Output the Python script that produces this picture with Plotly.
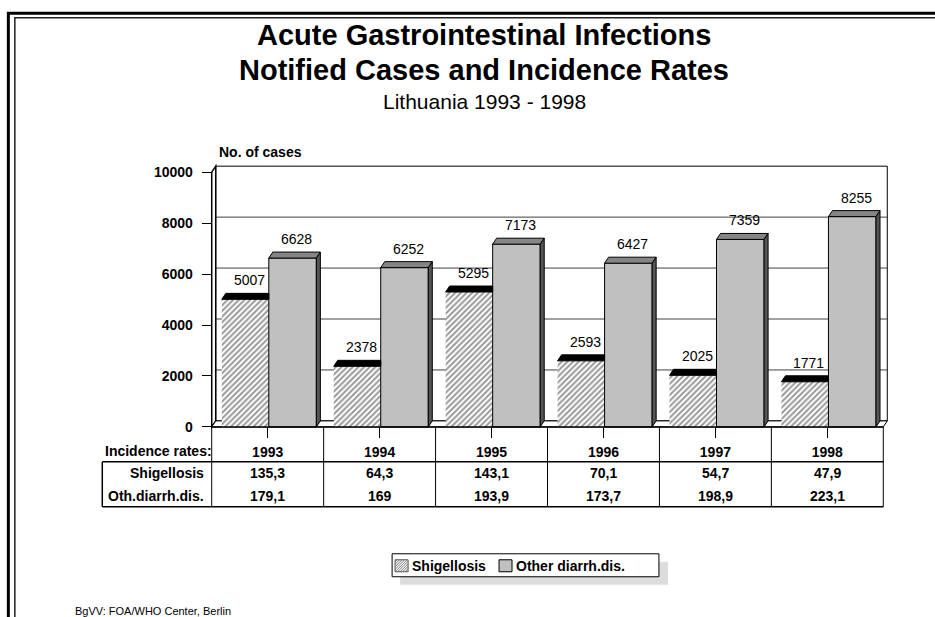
import numpy as np
import plotly.graph_objects as go

# ---------------- data ----------------
years = ["1993", "1994", "1995", "1996", "1997", "1998"]
shigellosis = [5007, 2378, 5295, 2593, 2025, 1771]
other_diarrh = [6628, 6252, 7173, 6427, 7359, 8255]
rate_shig = ["135,3", "64,3", "143,1", "70,1", "54,7", "47,9"]
rate_other = ["179,1", "169", "193,9", "173,7", "198,9", "223,1"]
y_ticks = [0, 2000, 4000, 6000, 8000, 10000]
series_names = ["Shigellosis", "Other diarrh.dis."]

FONT = "Liberation Sans, Arial, sans-serif"
FIG_W, FIG_H = 935, 617

# ---------------- geometry ----------------
XR = [-0.56, 5.56]
YR = [-200, 10320]
UNIT = 112.0            # px per category
YPX = 0.0255            # px per case
L = 211.5 - (-0.5 - XR[0]) * UNIT
W = (XR[1] - XR[0]) * UNIT
T = 427 - YR[1] * YPX
H = (YR[1] - YR[0]) * YPX
R = FIG_W - L - W
B = FIG_H - T - H

def xp(pix):
    return (pix - L) / W

def yp(pix):
    return 1 - (pix - T) / H

def xpix(xd):
    return L + (xd - XR[0]) / (XR[1] - XR[0]) * W

DX = 4.0 / UNIT          # 3-D depth in x (data units)
DY = 6.0 / YPX           # 3-D depth in y (data units)

S_OFF, S_W = -0.41, 0.42
O_OFF, O_W = 0.01, 0.425

xi = np.arange(len(years), dtype=float)

fig = go.Figure()

# front faces
fig.add_trace(go.Bar(
    x=xi, y=shigellosis, name=series_names[0], offset=S_OFF, width=S_W,
    marker=dict(color="white", line=dict(width=0),
                pattern=dict(shape="/", fgcolor="#333333", bgcolor="white",
                             size=4, solidity=0.5)),
    hoverinfo="skip", showlegend=False))
fig.add_trace(go.Bar(
    x=xi, y=other_diarrh, name=series_names[1], offset=O_OFF, width=O_W,
    marker=dict(color="#c0c0c0", line=dict(color="black", width=1)),
    hoverinfo="skip", showlegend=False))

def poly(xs_list, ys_list):
    X, Y = [], []
    for xs, ys in zip(xs_list, ys_list):
        X += list(xs) + [xs[0], None]
        Y += list(ys) + [ys[0], None]
    return X, Y

# shigellosis top (visible part, left of the other bar)
sx, sy = [], []
for i, v in enumerate(shigellosis):
    x0, x1 = i + S_OFF, i + S_OFF + S_W
    sx.append([x0, x1, x1, x0 + DX])
    sy.append([v, v, v + DY, v + DY])
X, Y = poly(sx, sy)
fig.add_trace(go.Scatter(x=X, y=Y, mode="lines", fill="toself",
                         fillcolor="black", line=dict(color="black", width=1),
                         showlegend=False, hoverinfo="skip"))

# other bars top and side
tx, ty, kx, ky = [], [], [], []
for i, v in enumerate(other_diarrh):
    x0, x1 = i + O_OFF, i + O_OFF + O_W
    tx.append([x0, x1, x1 + DX, x0 + DX])
    ty.append([v, v, v + DY, v + DY])
    kx.append([x1, x1 + DX, x1 + DX, x1])
    ky.append([0, DY, v + DY, v])
X, Y = poly(tx, ty)
fig.add_trace(go.Scatter(x=X, y=Y, mode="lines", fill="toself",
                         fillcolor="#858585", line=dict(color="black", width=1),
                         showlegend=False, hoverinfo="skip"))
X, Y = poly(kx, ky)
fig.add_trace(go.Scatter(x=X, y=Y, mode="lines", fill="toself",
                         fillcolor="#555555", line=dict(color="black", width=1),
                         showlegend=False, hoverinfo="skip"))

shapes = []
# back wall
shapes.append(dict(type="rect", xref="x", yref="y", layer="below",
                   x0=-0.5 + DX, x1=5.5 + DX, y0=DY, y1=10000 + DY,
                   line=dict(color="black", width=1), fillcolor="white"))
for t in y_ticks[1:-1]:
    shapes.append(dict(type="line", xref="x", yref="y", layer="below",
                       x0=-0.5 + DX, x1=5.5 + DX, y0=t + DY, y1=t + DY,
                       line=dict(color="#404040", width=1)))
# left wall
shapes.append(dict(type="path", xref="x", yref="y", layer="below",
                   path=f"M{-0.5},0 L{-0.5},10000 L{-0.5+DX},{10000+DY} L{-0.5+DX},{DY} Z",
                   line=dict(color="black", width=1.5), fillcolor="white"))
# floor
shapes.append(dict(type="path", xref="x", yref="y", layer="below",
                   path=f"M{-0.5},0 L5.5,0 L{5.5+DX},{DY} L{-0.5+DX},{DY} Z",
                   line=dict(color="black", width=1), fillcolor="white"))
shapes.append(dict(type="line", xref="x", yref="y", layer="above",
                   x0=-0.5, x1=5.5, y0=0, y1=0,
                   line=dict(color="black", width=1.5)))

def pline(x0, y0, x1, y1, color="black", width=1.5, layer="above"):
    shapes.append(dict(type="line", xref="paper", yref="paper", layer=layer,
                       x0=xp(x0), x1=xp(x1), y0=yp(y0), y1=yp(y1),
                       line=dict(color=color, width=width)))

def prect(x0, y0, x1, y1, fill, lcolor=None, lwidth=0, layer="above"):
    shapes.append(dict(type="rect", xref="paper", yref="paper", layer=layer,
                       x0=xp(x0), x1=xp(x1), y0=yp(y0), y1=yp(y1),
                       fillcolor=fill,
                       line=dict(color=lcolor or fill, width=lwidth)))

# ---- table lines ----
tl, tr = 102, xpix(5.5)
pline(tl, 462, tr, 462)
pline(tl, 507, tr, 507)
pline(tl, 462, tl, 507)
for k in range(len(years) + 1):
    xx = xpix(k - 0.5)
    pline(xx, 427, xx, 507, width=1)

# ---- page frame ----
shapes.append(dict(type="path", xref="paper", yref="paper",
                   path=f"M{xp(8)},{yp(625)} L{xp(8)},{yp(13)} L{xp(945)},{yp(13)}",
                   line=dict(color="black", width=3)))
shapes.append(dict(type="path", xref="paper", yref="paper",
                   path=f"M{xp(14.5)},{yp(625)} L{xp(14.5)},{yp(17.5)} L{xp(945)},{yp(17.5)}",
                   line=dict(color="#222222", width=1.5)))

# ---- legend (drawn) ----
prect(400, 562, 668, 585, "#dddddd")
prect(392, 554, 659, 577, "white", "black", 1)
ix0, iy0, ix1, iy1 = 395, 560, 408, 572
prect(ix0, iy0, ix1, iy1, "white", "#555555", 1)
c = ix0 + iy0 + 2
while c < ix1 + iy1:
    xa = max(ix0, c - iy1)
    xb = min(ix1, c - iy0)
    if xb > xa:
        pline(xa, c - xa, xb, c - xb, color="#555555", width=0.8)
    c += 2.5
prect(499, 560, 512, 572, "#c0c0c0", "black", 1)

ann = []
def text(px, py, s, size=14, bold=True, xanchor="center", yanchor="middle"):
    ann.append(dict(xref="paper", yref="paper", x=xp(px), y=yp(py),
                    text=f"<b>{s}</b>" if bold else s, showarrow=False,
                    xanchor=xanchor, yanchor=yanchor,
                    font=dict(family=FONT, size=size, color="black")))

text(484, 35, "Acute Gastrointestinal Infections", size=29)
text(484, 70, "Notified Cases and Incidence Rates", size=29)
text(484, 101, "Lithuania 1993 - 1998", size=21, bold=False)
text(217, 152, "No. of cases", size=14, xanchor="left")
text(214, 451, "Incidence rates:", size=14, xanchor="right")
text(206, 473, "Shigellosis", size=14, xanchor="right")
text(206, 496, "Oth.diarrh.dis.", size=14, xanchor="right")
for i in range(len(years)):
    text(xpix(i), 473, rate_shig[i])
    text(xpix(i), 496, rate_other[i])
text(410, 566, series_names[0], size=14, xanchor="left")
text(514, 566, series_names[1], size=14, xanchor="left")
text(73, 611, "BgVV: FOA/WHO Center, Berlin", size=11, bold=False, xanchor="left")

# value labels
for i, v in enumerate(shigellosis):
    ann.append(dict(xref="x", yref="y", x=i + S_OFF + S_W / 2 + DX, y=v + DY,
                    text=str(v), showarrow=False, yanchor="bottom", yshift=3,
                    font=dict(family=FONT, size=14, color="black")))
for i, v in enumerate(other_diarrh):
    ann.append(dict(xref="x", yref="y", x=i + O_OFF + O_W / 2 + DX, y=v + DY,
                    text=str(v), showarrow=False, yanchor="bottom", yshift=3,
                    font=dict(family=FONT, size=14, color="black")))

fig.update_layout(
    width=FIG_W, height=FIG_H,
    margin=dict(l=L, r=R, t=T, b=B, autoexpand=False),
    paper_bgcolor="white", plot_bgcolor="white",
    barmode="overlay",
    shapes=shapes, annotations=ann,
    showlegend=False,
    font=dict(family=FONT, color="black"),
    xaxis=dict(range=XR, tickvals=list(xi), ticktext=[f"<b>{y}</b>" for y in years],
               ticks="outside", ticklen=10, tickcolor="black", tickwidth=1,
               showline=False, showgrid=False, zeroline=False,
               anchor="free", position=yp(427), ticklabelstandoff=2,
               tickfont=dict(family=FONT, size=14, color="black")),
    yaxis=dict(range=YR, tickvals=y_ticks, ticktext=[f"<b>{t}</b>" for t in y_ticks],
               ticks="outside", ticklen=10, tickcolor="black", tickwidth=1,
               showline=False, showgrid=False, zeroline=False,
               anchor="free", position=xp(211.5), ticklabelstandoff=6,
               tickfont=dict(family=FONT, size=14, color="black")),
)

fig.write_html("out.html", config={"displayModeBar": False},
               post_script="document.body.style.margin='0px';")
